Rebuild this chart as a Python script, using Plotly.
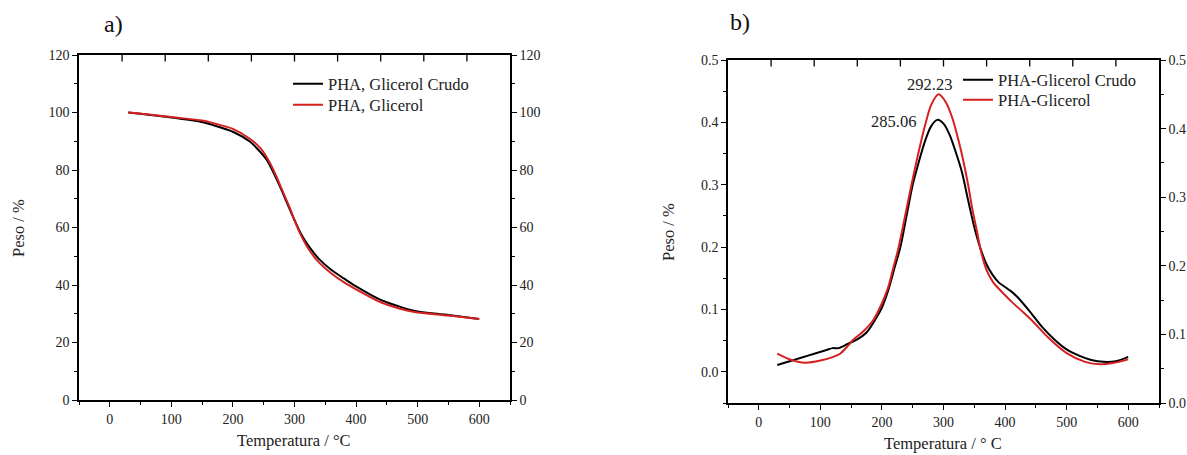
import plotly.graph_objects as go

# ---------------- data: TGA (panel a) ----------------
tga_T_crudo = [30, 60, 100, 147, 168, 200, 228, 240, 255, 265, 277, 293, 300, 310, 320, 332, 340, 360, 380, 400, 440, 470, 495, 550, 600]
tga_W_crudo = [100, 99.3, 98.3, 96.8, 95.6, 93.3, 89.8, 87.3, 83.5, 79.5, 74.0, 66.0, 62.6, 58.0, 54.5, 51.0, 49.0, 45.2, 42.3, 39.5, 34.8, 32.5, 31.0, 29.6, 28.2]
tga_T_glic = [30, 60, 100, 150, 170, 200, 228, 245, 260, 270, 280, 293, 300, 310, 320, 332, 340, 360, 380, 400, 440, 470, 495, 550, 600]
tga_W_glic = [100, 99.4, 98.4, 97.2, 96.2, 94.3, 90.8, 87.5, 82.5, 78.0, 73.0, 66.5, 62.5, 57.5, 53.5, 49.8, 47.8, 44.0, 41.0, 38.5, 34.0, 31.8, 30.6, 29.4, 28.2]

# ---------------- data: DTG (panel b) ----------------
dtg_T_crudo = [30, 50, 70, 90, 110, 120, 130, 145, 160, 175, 190, 200, 210, 220, 230, 240, 250, 260, 270, 280, 290,
               300, 310, 320, 330, 340, 350, 360, 370, 380, 390, 400, 410, 420, 440, 460, 480, 500, 520, 540, 560, 580, 600]
dtg_v_crudo = [0.011, 0.017, 0.023, 0.029, 0.035, 0.038, 0.038, 0.045, 0.052, 0.063, 0.085, 0.103, 0.130, 0.165, 0.200, 0.250, 0.300, 0.337, 0.370, 0.394, 0.404,
               0.398, 0.380, 0.352, 0.320, 0.275, 0.232, 0.198, 0.172, 0.155, 0.143, 0.136, 0.129, 0.120, 0.097, 0.072, 0.052, 0.036, 0.026, 0.019, 0.016, 0.017, 0.024]
dtg_T_glic = [30, 45, 60, 77, 100, 121, 132, 145, 153, 170, 186, 200, 210, 218, 226, 235, 248, 259, 270, 280, 292,
              304, 315, 322, 330, 340, 347, 354, 360, 370, 381, 395, 410, 430, 446, 470, 500, 530, 554, 575, 600]
dtg_v_glic = [0.029, 0.022, 0.017, 0.0145, 0.018, 0.024, 0.029, 0.042, 0.051, 0.065, 0.083, 0.110, 0.135, 0.165, 0.195, 0.237, 0.300, 0.350, 0.395, 0.428, 0.445,
              0.432, 0.405, 0.380, 0.348, 0.300, 0.260, 0.227, 0.197, 0.163, 0.143, 0.128, 0.113, 0.095, 0.080, 0.055, 0.030, 0.016, 0.012, 0.014, 0.020]

peak_labels = ["292.23", "285.06"]
x_ticks = [0, 100, 200, 300, 400, 500, 600]
top_ticks = [20, 90, 160, 230, 300, 370, 440, 510, 580]

BLACK = "#000000"
RED = "#d62020"
FONT = "Liberation Serif, Times New Roman, serif"
W, H = 1187, 455

def px_x(p):
    return p / W

def px_y(p):
    return 1 - p / H

dom_ax = [px_x(79), px_x(510)]
dom_ay = [px_y(400), px_y(55)]
dom_bx = [px_x(728), px_x(1159)]
dom_by = [px_y(403), px_y(60)]

fig = go.Figure()

line_kw = dict(width=2, shape="spline", smoothing=0.8)
fig.add_trace(go.Scatter(x=tga_T_crudo, y=tga_W_crudo, mode="lines", name="PHA, Glicerol Crudo",
                         line=dict(color=BLACK, **line_kw), xaxis="x", yaxis="y", legend="legend"))
fig.add_trace(go.Scatter(x=tga_T_glic, y=tga_W_glic, mode="lines", name="PHA, Glicerol",
                         line=dict(color=RED, **line_kw), xaxis="x", yaxis="y", legend="legend2"))
fig.add_trace(go.Scatter(x=dtg_T_crudo, y=dtg_v_crudo, mode="lines", name="PHA-Glicerol Crudo",
                         line=dict(color=BLACK, **line_kw), xaxis="x3", yaxis="y3", legend="legend3"))
fig.add_trace(go.Scatter(x=dtg_T_glic, y=dtg_v_glic, mode="lines", name="PHA-Glicerol",
                         line=dict(color=RED, **line_kw), xaxis="x3", yaxis="y3", legend="legend4"))
# invisible traces to activate the right axes
for xa, ya in [("x", "y2"), ("x3", "y4")]:
    fig.add_trace(go.Scatter(x=[0], y=[0], xaxis=xa, yaxis=ya, mode="markers", marker=dict(opacity=0),
                             showlegend=False, hoverinfo="skip"))

tickfont = dict(family=FONT, size=14, color="#222")
common = dict(showline=True, linecolor="black", linewidth=1.5, showgrid=False, zeroline=False,
              tickcolor="black", tickwidth=1.2, tickfont=tickfont, automargin=False)
minor_kw = dict(ticks="outside", ticklen=3, tickcolor="black", tickwidth=1.2)

bottom_x = dict(common, range=[-50, 650], tickvals=x_ticks, ticks="outside", ticklen=5, mirror=True,
                minor=dict(minor_kw, dtick=50, tick0=0))

legend_font = dict(family=FONT, size=16.5, color="#222")

def leg(xp, yp):
    return dict(x=px_x(xp), y=px_y(yp), xanchor="left", yanchor="middle", bgcolor="rgba(0,0,0,0)",
                font=legend_font, tracegroupgap=0, itemwidth=30, borderwidth=0)

fig.update_layout(
    width=W, height=H, margin=dict(l=0, r=0, t=0, b=0, autoexpand=False),
    paper_bgcolor="white", plot_bgcolor="white",
    showlegend=True,
    xaxis=dict(bottom_x, domain=dom_ax, anchor="y"),
    yaxis=dict(common, domain=dom_ay, anchor="x", range=[0, 120], dtick=20, ticks="outside", ticklen=5,
               minor=dict(minor_kw, dtick=10)),
    yaxis2=dict(common, overlaying="y", side="right", anchor="x", range=[0, 120], dtick=20, ticks="outside",
                ticklen=5, minor=dict(minor_kw, dtick=10)),
    xaxis3=dict(bottom_x, domain=dom_bx, anchor="y3"),
    yaxis3=dict(common, domain=dom_by, anchor="x3", range=[-0.05, 0.5], tickvals=[0, 0.1, 0.2, 0.3, 0.4, 0.5],
                tickformat=".1f", ticks="outside", ticklen=5, minor=dict(minor_kw, dtick=0.05, tick0=0)),
    yaxis4=dict(common, overlaying="y3", side="right", anchor="x3", range=[0, 0.5], dtick=0.1, tickformat=".1f",
                ticks="outside", ticklen=5, minor=dict(minor_kw, dtick=0.05, tick0=0)),
    legend=leg(288, 84),
    legend2=leg(288, 105),
    legend3=leg(958, 80),
    legend4=leg(958, 100),
)

# top-edge inward ticks (axis decoration), positioned in data x units on each panel's top edge
shapes = []
for xref, yref, plot_h in [("x", "y domain", 345.0), ("x3", "y3 domain", 343.0)]:
    for t in top_ticks:
        shapes.append(dict(type="line", xref=xref, yref=yref, x0=t, x1=t, y0=1, y1=1 - 6.5 / plot_h,
                           line=dict(color="black", width=1.3)))
fig.update_layout(shapes=shapes)

ann_font = dict(family=FONT, size=16.5, color="#222")

def ann(text, xp, yp, font=ann_font, angle=0):
    return dict(text=text, x=px_x(xp), y=px_y(yp), xref="paper", yref="paper", showarrow=False,
                xanchor="center", yanchor="middle", textangle=angle, font=font)

annotations = [
    ann("a)", 113, 24, dict(family=FONT, size=24, color="#111")),
    ann("b)", 740, 22, dict(family=FONT, size=24, color="#111")),
    ann("Peso / %", 18, 228, angle=-90),
    ann("Peso / %", 669, 232, angle=-90),
    ann("Temperatura / °C", 294, 440),
    ann("Temperatura / ° C", 943, 443),
    ann(peak_labels[0], 929, 84),
    ann(peak_labels[1], 893, 122),
]
fig.update_layout(annotations=annotations)

fig.write_html("out.html")
